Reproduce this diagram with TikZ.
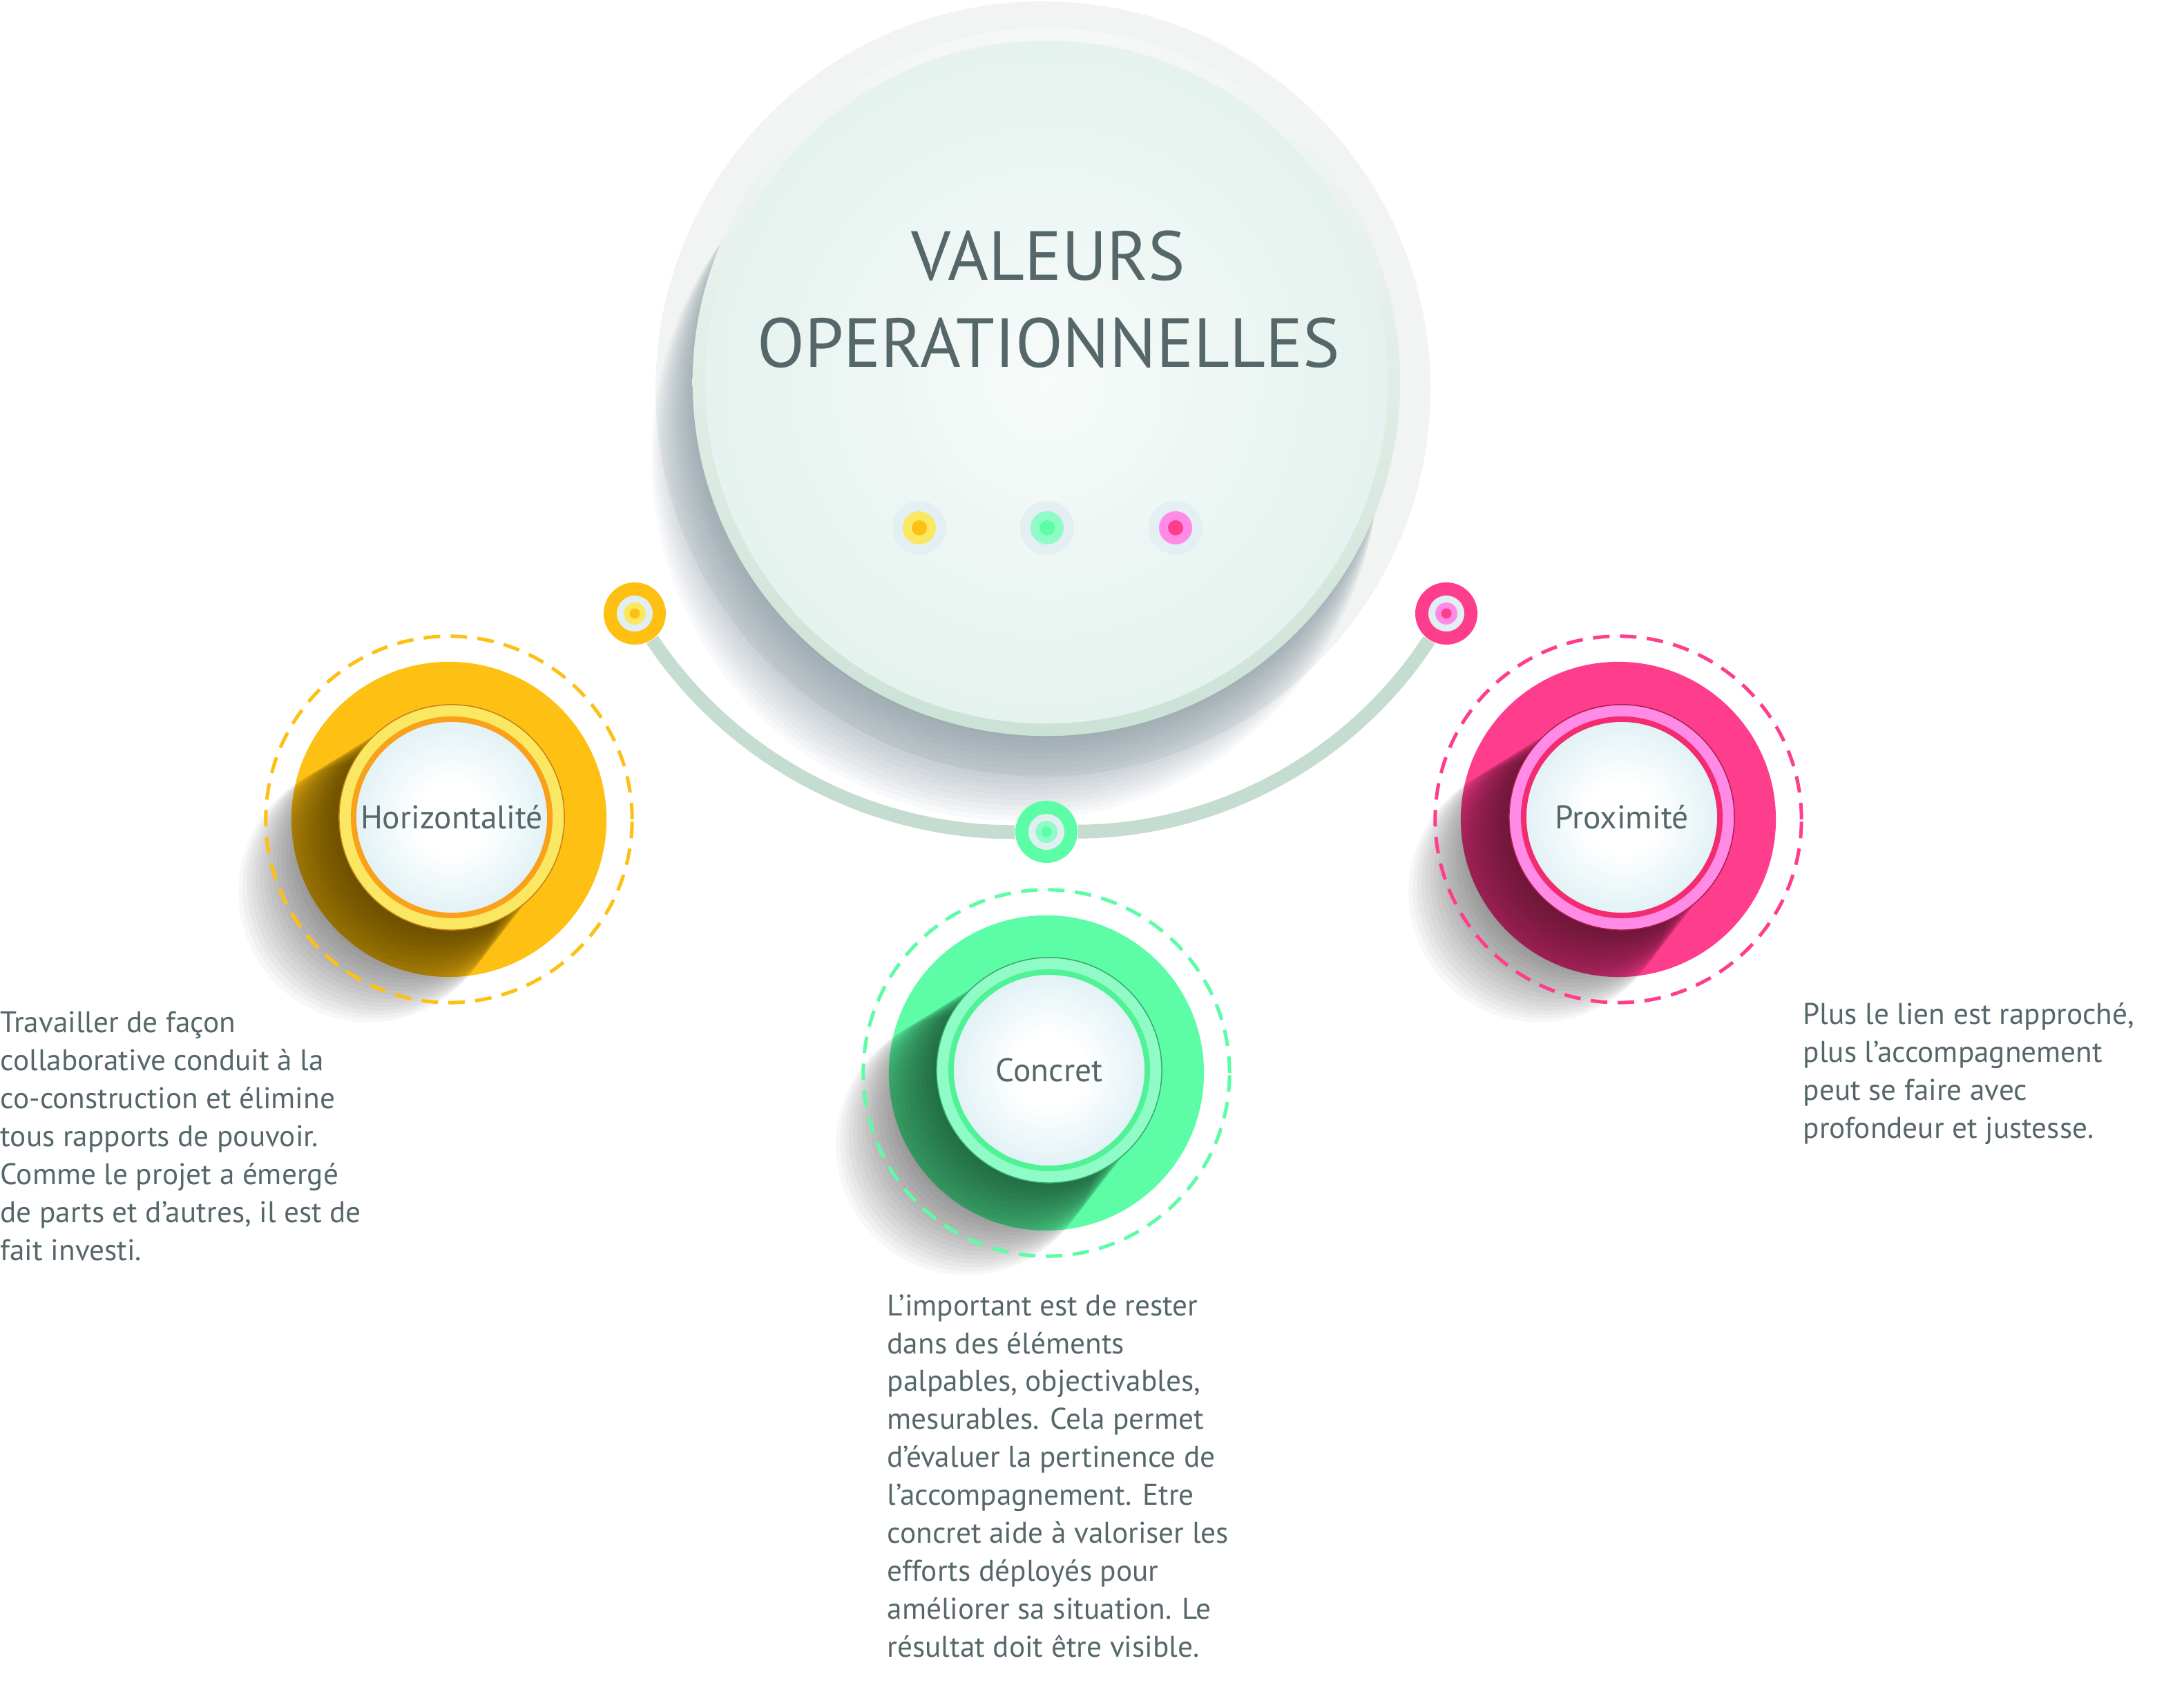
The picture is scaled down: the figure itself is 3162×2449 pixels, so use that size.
\documentclass[tikz,border=0pt]{standalone}
\usepackage{fontspec}
\setmainfont{PT Sans}
\usetikzlibrary{backgrounds}

\definecolor{txt}{HTML}{56676A}
\definecolor{halo}{HTML}{F2F4F3}
\definecolor{rimT}{HTML}{F6F8F6}
\definecolor{rimB}{HTML}{CCE2D6}
\definecolor{faceE}{HTML}{E4F2EE}
\definecolor{arcC}{HTML}{C5DCD1}
\definecolor{shadeC}{HTML}{4A6475}
\definecolor{ringW}{HTML}{E1EFF2}
\definecolor{btnE}{HTML}{DAEEF3}
\definecolor{dotH}{HTML}{E4EFF3}
\definecolor{yelD}{HTML}{FDC013}
\definecolor{yelL}{HTML}{FBE862}
\definecolor{yelR}{HTML}{F9A11B}
\definecolor{grnD}{HTML}{5CFDA6}
\definecolor{grnL}{HTML}{8FFBC6}
\definecolor{grnR}{HTML}{4FF396}
\definecolor{pnkD}{HTML}{FF3D8D}
\definecolor{pnkL}{HTML}{FF8BE6}
\definecolor{pnkR}{HTML}{F22C6E}

\pgfdeclareradialshading{btnface}{\pgfpoint{0bp}{0bp}}{color(0bp)=(white); color(8bp)=(white); color(25bp)=(btnE); color(50bp)=(btnE)}
\pgfdeclareradialshading{mainface}{\pgfpoint{0bp}{0bp}}{color(0bp)=(white!70!faceE); color(25bp)=(faceE); color(50bp)=(faceE)}

\tikzset{
  disk/.style={circle, fill=#1, minimum size=4.56cm, inner sep=0pt},
  dashring/.style={circle, draw=#1, line width=0.05cm, dash pattern=on 0.24cm off 0.15cm, minimum size=5.3cm, inner sep=0pt},
  knob/.style 2 args={circle, fill=#1, minimum size=0.9cm, inner sep=0pt,
    path picture={\fill[ringW] (path picture bounding box.center) circle (0.26cm);
      \fill[#2] (path picture bounding box.center) circle (0.16cm);
      \fill[#1] (path picture bounding box.center) circle (0.075cm);}},
  dot/.style 2 args={circle, fill=dotH, minimum size=0.78cm, inner sep=0pt,
    path picture={\fill[#1] (path picture bounding box.center) circle (0.24cm);
      \fill[#2] (path picture bounding box.center) circle (0.11cm);}},
  button/.style n args={3}{circle, fill=#1, draw=#3, line width=0.015cm, minimum size=3.26cm, inner sep=0pt,
    text=txt, font=\fontsize{13.5}{16}\selectfont,
    path picture={\shadedraw[shading=btnface, draw=#2, line width=0.08cm] (path picture bounding box.center) circle (1.42cm);}},
  para/.style={text=txt, font=\fontsize{12.3}{15.6}\selectfont, align=left, inner sep=0pt}
}

\begin{document}
\begin{tikzpicture}[x=0.01cm, y=-0.01cm]
  \useasboundingbox (0,0) rectangle (3162,2449);

  % big circle
  \fill[halo] (1510,563) circle (561);
  \foreach \k in {1,...,18}
    \fill[shadeC, opacity=0.035] (1515-\k*2.5, 553+\k*6) circle (500+\k*1.5);
  \node[circle, minimum size=10.24cm, inner sep=0pt, shading=axis, top color=rimT, bottom color=rimB,
    path picture={\shade[shading=mainface] (path picture bounding box.center) circle (4.94cm);}] (main) at (1515,553) {};
  \node[text=txt, font=\fontsize{28.6}{36.1}\selectfont, align=center, anchor=base] (title) at (1518,532) {VALEURS\\OPERATIONNELLES};
  \node[dot={yelL}{yelD}] (dy) at (1331,764) {};
  \node[dot={grnL}{grnD}] (dg) at (1516,764) {};
  \node[dot={pnkL}{pnkD}] (dp) at (1702,764) {};

  % knobs on the arc
  \node[knob={yelD}{yelL}] (ky) at (919,888) {};
  \node[knob={grnD}{grnL}] (kg) at (1515,1204) {};
  \node[knob={pnkD}{pnkL}] (kp) at (2094,888) {};

  % Horizontalite
  \node[disk=yelD] (hd) at (650,1186) {};
  \foreach \k in {1,...,24}
    \fill[black, opacity=0.03] (654,1183) ++(-\k*5,\k*4.5) circle (160+\k*1.2);
  \node[dashring=yelD] (hr) at (650,1186) {};
  \node[button={yelL}{yelR}{yelR!80!black}] (hb) at (654,1183) {Horizontalité};

  % Concret
  \node[disk=grnD] (cd) at (1515,1553) {};
  \foreach \k in {1,...,24}
    \fill[black, opacity=0.03] (1519,1549) ++(-\k*5,\k*4.5) circle (160+\k*1.2);
  \node[dashring=grnD] (cr) at (1515,1553) {};
  \node[button={grnL}{grnR}{grnR!70!black}] (cb) at (1519,1549) {Concret};

  % Proximite
  \node[disk=pnkD] (pd) at (2343,1186) {};
  \foreach \k in {1,...,24}
    \fill[black, opacity=0.03] (2348,1183) ++(-\k*5,\k*4.5) circle (160+\k*1.2);
  \node[dashring=pnkD] (pr) at (2343,1186) {};
  \node[button={pnkL}{pnkR}{pnkR!70!black}] (pb) at (2348,1183) {Proximité};

  % texts
  \node[para, anchor=base west] (ht) at (0,1824) {Travailler de façon\\collaborative conduit à la\\co-construction et élimine\\tous rapports de pouvoir.\\Comme le projet a émergé\\de parts et d’autres, il est de\\fait investi.};
  \node[para, anchor=base west] (ct) at (1284,2398) {L’important est de rester\\dans des éléments\\palpables, objectivables,\\mesurables. Cela permet\\d’évaluer la pertinence de\\l’accompagnement. Etre\\concret aide à valoriser les\\efforts déployés pour\\améliorer sa situation. Le\\résultat doit être visible.};
  \node[para, anchor=base west] (pt) at (2610,1647) {Plus le lien est rapproché,\\plus l’accompagnement\\peut se faire avec\\profondeur et justesse.};

  \begin{scope}[on background layer]
    \fill[white] (0,0) rectangle (3162,2449);
    \path[draw=arcC, line width=0.2cm]
      (ky) edge[bend right=28.3, looseness=0.9] (kg)
      (kg) edge[bend right=28.3, looseness=0.9] (kp);
  \end{scope}
\end{tikzpicture}
\end{document}
